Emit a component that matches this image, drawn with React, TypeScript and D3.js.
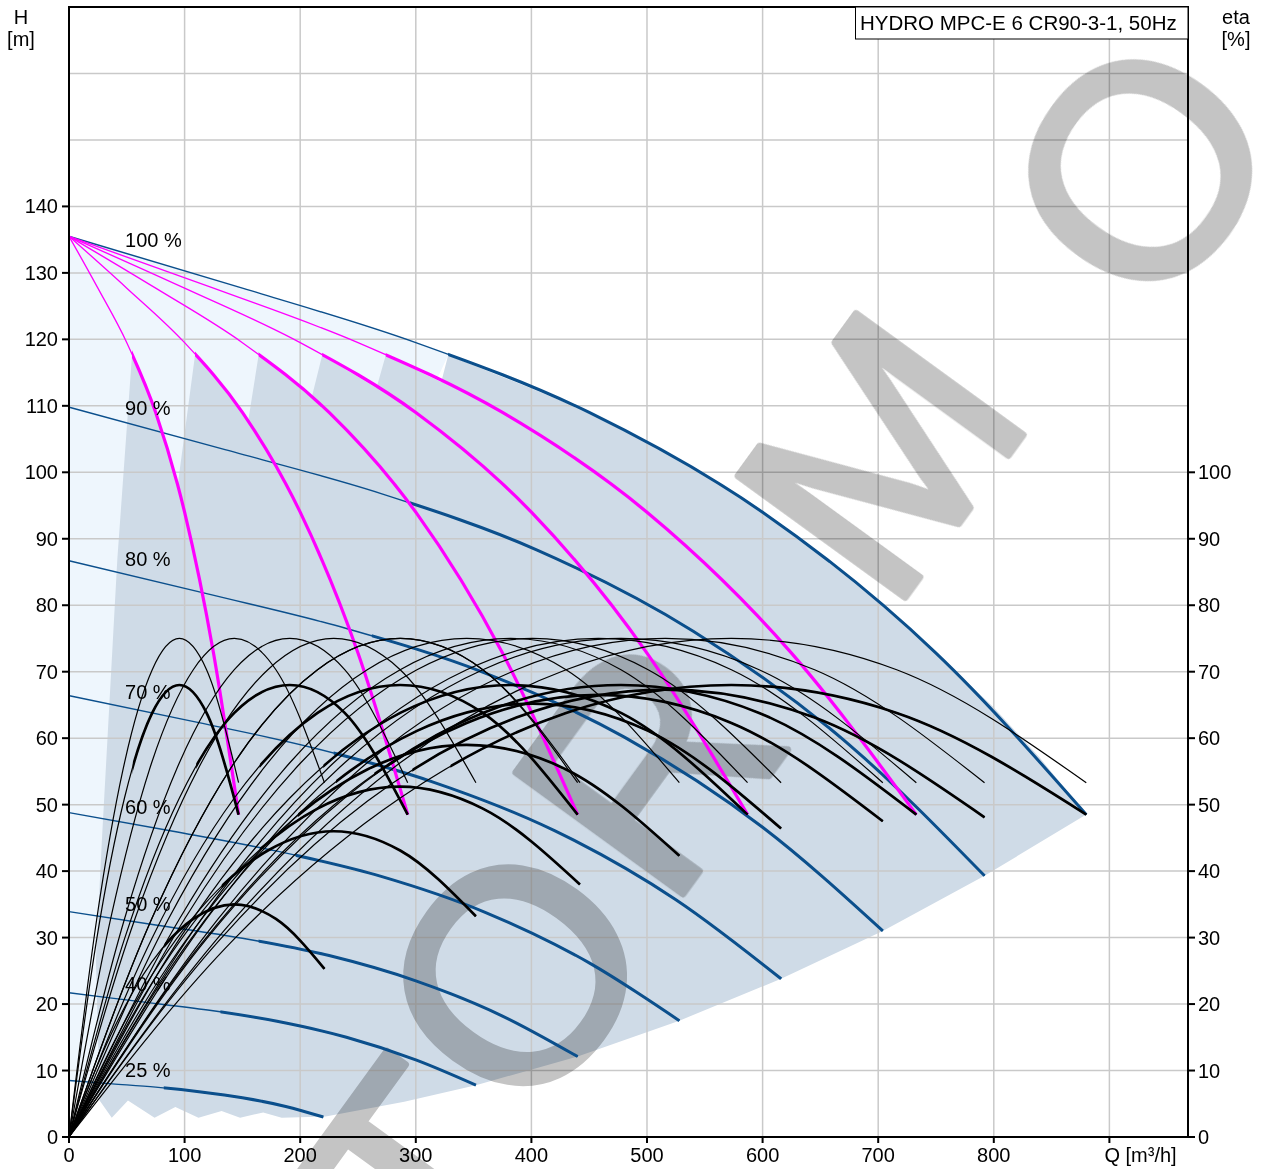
import React, { useEffect } from 'react';
import * as d3 from 'd3';

// ---- data ----

// 6 pumps running, QH curve per speed (flow m³/h, head m)
const speedLabels = ['100 %', '90 %', '80 %', '70 %', '60 %', '50 %', '40 %', '25 %'];
const qhFlow6 = [
  [0, 150, 300, 450, 600, 750, 880],
  [0, 135, 270, 405, 540, 675, 792],
  [0, 120, 240, 360, 480, 600, 704],
  [0, 105, 210, 315, 420, 525, 616],
  [0, 90, 180, 270, 360, 450, 528],
  [0, 75, 150, 225, 300, 375, 440],
  [0, 60, 120, 180, 240, 300, 352],
  [0, 37.5, 75, 112.5, 150, 187.5, 220],
];
const qhHead6 = [
  [135.5, 127.7, 119.5, 109, 94, 72.8, 48.5],
  [109.8, 103.4, 96.8, 88.3, 76.1, 59, 39.3],
  [86.7, 81.7, 76.5, 69.8, 60.2, 46.6, 31],
  [66.4, 62.6, 58.6, 53.4, 46.1, 35.7, 23.8],
  [48.8, 46, 43, 39.2, 33.8, 26.2, 17.5],
  [33.9, 31.9, 29.9, 27.3, 23.5, 18.2, 12.1],
  [21.7, 20.4, 19.1, 17.4, 15, 11.6, 7.8],
  [8.5, 8, 7.5, 6.8, 5.9, 4.6, 3],
];
const qhMinFlow6 = [328, 295, 262, 229, 196, 164, 131, 82];

// 1..5 pumps at full speed (magenta)
const qhFlowN = [
  [0, 25, 50, 75, 100, 125, 146.7],
  [0, 50, 100, 150, 200, 250, 293],
  [0, 75, 150, 225, 300, 375, 440],
  [0, 100, 200, 300, 400, 500, 587],
  [0, 125, 250, 375, 500, 625, 733],
];
const qhHeadN = [135.5, 127.7, 119.5, 109, 94, 72.8, 48.5];
const qhMinFlowN = [54.5, 109, 164, 219, 274];

// efficiency curves: 1..6 pumps at 100 %, then 6 pumps at 90..25 %
const etaFlow = [
  [0, 24, 48, 72, 95.5, 119, 146.7],
  [0, 48, 95.5, 143, 191, 238.5, 293],
  [0, 71.5, 143, 215, 286.5, 358, 440],
  [0, 95.5, 191, 286.5, 382, 477.5, 587],
  [0, 119, 238.5, 358, 477.5, 597, 733],
  [0, 143, 286.5, 430, 573, 716, 880],
  [0, 129, 258, 387, 516, 645, 792],
  [0, 114.5, 229, 344, 458, 573, 704],
  [0, 100, 200.5, 301, 401, 501, 616],
  [0, 86, 172, 258, 344, 430, 528],
  [0, 71.5, 143, 215, 286.5, 358, 442],
  [0, 57, 114.5, 172, 229, 286.5, 352],
  [0, 36, 71.5, 107.5, 143, 179, 221],
];
const etaPump = [0, 32.8, 56.3, 70.3, 75, 70.3, 53.3];
const etaTotal = [
  [0, 29.8, 51, 63.8, 68, 63.8, 48.5],
  [0, 29.8, 51, 63.8, 68, 63.8, 48.5],
  [0, 29.8, 51, 63.8, 68, 63.8, 48.5],
  [0, 29.8, 51, 63.8, 68, 63.8, 48.5],
  [0, 29.8, 51, 63.8, 68, 63.8, 48.5],
  [0, 29.8, 51, 63.8, 68, 63.8, 48.5],
  [0, 29.4, 50.5, 63.1, 67.3, 63.1, 48.1],
  [0, 29.1, 49.9, 62.3, 66.5, 62.3, 47.5],
  [0, 28.5, 48.9, 61.1, 65.2, 61.1, 46.4],
  [0, 25.8, 44.3, 55.3, 59, 55.3, 42.3],
  [0, 23.1, 39.5, 49.4, 52.7, 49.4, 38],
  [0, 20.1, 34.5, 43.1, 46, 43.1, 33.2],
  [0, 15.3, 26.3, 32.8, 35, 32.8, 25.3],
];
const etaMinFlow = [55, 110, 165, 220, 275, 330, 297, 264, 231, 198, 165, 132, 82.5];

// operating ranges (Q, H)
const operatingArea: [number, number][] = [
  [54.5, 117.6], [70, 111.3], [83, 104.8], [94, 98],
  [109, 117.6], [130, 113.5], [150, 109], [155, 107.7],
  [164, 117.6], [190, 114.5], [210, 111.3],
  [219, 117.6], [240, 115.4], [266, 112.7],
  [274, 117.6], [300, 115.4], [322, 113.6],
  [328, 117.6], [360, 115.4], [400, 112.6], [450, 109], [500, 104.7], [550, 99.6],
  [600, 94], [650, 87.5], [700, 80.4], [750, 72.8], [800, 64.6], [840, 57], [880, 48.5],
  [792, 39.3], [704, 31], [616, 23.8], [528, 17.5], [440, 12.1], [352, 7.8], [290, 5.3], [222, 3.1],
  [184, 2.9], [168, 3.7], [148, 2.9], [132, 3.9], [112, 2.9], [92, 4.5], [74, 2.9], [51, 5.5],
  [37, 2.9], [26.5, 5.5],
  [23.3, 26.7], [28.5, 44.8], [41.8, 86.9],
];
const lowFlowArea: [number, number][] = [
  [0, 135.5], [150, 127.7], [300, 119.5], [328, 117.6], [26.5, 5.5],
  [25, 5.9], [18.75, 6.8], [12.5, 7.5], [6.25, 8], [0, 8.5],
];

const qTicks = [0, 100, 200, 300, 400, 500, 600, 700, 800];
const hTicks = d3.range(0, 150, 10);
const etaTicks = d3.range(0, 110, 10);
const title = 'HYDRO MPC-E 6 CR90-3-1, 50Hz';
const watermark = 'TORMO';

// ---- drawing ----
const W = 1288;
const H = 1169;
const x = d3.scaleLinear().domain([0, 968]).range([69, 1188]);
const y = d3.scaleLinear().domain([0, 170]).range([1137, 7]);

// centre of each watermark letter, screen px
const wmCentres = [
  [420, 1180],
  [515, 975],
  [648, 765],
  [880, 455],
  [1140, 170],
];

const curve = d3
  .line<[number, number]>()
  .x(d => x(d[0]))
  .y(d => y(d[1]))
  .curve(d3.curveMonotoneX);
const poly = d3
  .line<[number, number]>()
  .x(d => x(d[0]))
  .y(d => y(d[1]))
  .curve(d3.curveLinearClosed);

const zip = (qs: number[], vs: number[]) => qs.map((q, i) => [q, vs[i]] as [number, number]);

const FONT = '"Liberation Sans", Arial, Helvetica, sans-serif';
const FS = 20;
const BLUE = '#0b4f8c';
const MAGENTA = '#ff00ff';

// thin line over the whole range, thick from the given flow onwards
function Curve({ d, from, color, thin, thick, id }: { d: string; from: number; color: string; thin: number; thick: number; id: string }) {
  return (
    <g>
      <clipPath id={id}>
        <rect x={x(from)} y={0} width={W - x(from)} height={H} />
      </clipPath>
      <path d={d} fill="none" stroke={color} strokeWidth={thin} />
      <path d={d} fill="none" stroke={color} strokeWidth={thick} clipPath={`url(#${id})`} />
    </g>
  );
}

export default function App() {
  useEffect(() => {
    document.body.style.margin = '0';
  }, []);

  const x0 = x(0);
  const x1 = x(968);
  const y0 = y(0);
  const y1 = y(170);

  return (
    <svg width={W} height={H} style={{ display: 'block', position: 'absolute', left: 0, top: 0 }} fontFamily={FONT}>
      <rect width={W} height={H} fill="#fff" />

      {/* shaded operating ranges */}
      <path d={poly(lowFlowArea) || ''} fill="#eef6fd" />
      <path d={poly(operatingArea) || ''} fill="#cfdbe7" />

      {/* grid */}
      <g stroke="#c9c9c9" strokeWidth={1.5}>
        {d3.range(100, 1000, 100).map(q => (
          <line key={'gx' + q} x1={x(q)} x2={x(q)} y1={y0} y2={y1} />
        ))}
        {d3.range(10, 170, 10).map(h => (
          <line key={'gy' + h} x1={x0} x2={x1} y1={y(h)} y2={y(h)} />
        ))}
      </g>

      {/* watermark */}
      <g opacity={0.235} fill="#000" stroke="#000" strokeWidth={7} strokeLinejoin="round">
        {watermark.split('').map((ch, i) => (
          <text
            key={'wm' + i}
            transform={`translate(${wmCentres[i][0]},${wmCentres[i][1]}) rotate(-54)`}
            textAnchor="middle"
            dominantBaseline="central"
            fontSize={300}
          >
            {ch}
          </text>
        ))}
      </g>

      {/* QH curves, 6 pumps at each speed */}
      {qhFlow6.map((qs, i) => (
        <Curve key={'b' + i} id={'cb' + i} d={curve(zip(qs, qhHead6[i])) || ''} from={qhMinFlow6[i]} color={BLUE} thin={1.4} thick={3} />
      ))}

      {/* QH curves, 1..5 pumps at full speed */}
      {qhFlowN.map((qs, i) => (
        <Curve key={'m' + i} id={'cm' + i} d={curve(zip(qs, qhHeadN)) || ''} from={qhMinFlowN[i]} color={MAGENTA} thin={1.3} thick={3.2} />
      ))}

      {/* efficiency curves */}
      {etaFlow.map((qs, i) => (
        <path key={'ep' + i} d={curve(zip(qs, etaPump)) || ''} fill="none" stroke="#000" strokeWidth={1.2} />
      ))}
      {etaFlow.map((qs, i) => (
        <Curve key={'et' + i} id={'ct' + i} d={curve(zip(qs, etaTotal[i])) || ''} from={etaMinFlow[i]} color="#000" thin={1.2} thick={2.7} />
      ))}

      {/* speed labels */}
      {speedLabels.map((s, i) => (
        <text key={s} x={x(48.5)} y={y(qhHead6[i][0] * 0.984 + 0.6)} fontSize={FS} fill="#000">
          {s}
        </text>
      ))}

      {/* frame */}
      <rect x={x0} y={y1} width={x1 - x0} height={y0 - y1} fill="none" stroke="#000" strokeWidth={2} />

      {/* title box */}
      <rect x={855.5} y={y1} width={x1 - 855.5} height={32} fill="#fff" stroke="#000" strokeWidth={1} />
      <text x={860} y={30} fontSize={20.5}>
        {title}
      </text>

      {/* left axis */}
      {hTicks.map(h => (
        <g key={'lh' + h}>
          <line x1={x0 - 7} x2={x0} y1={y(h)} y2={y(h)} stroke="#000" strokeWidth={2} />
          <text x={x0 - 11} y={y(h)} dy="0.35em" textAnchor="end" fontSize={FS}>
            {h}
          </text>
        </g>
      ))}
      {/* right axis */}
      {etaTicks.map(e => (
        <g key={'re' + e}>
          <line x1={x1} x2={x1 + 7} y1={y(e)} y2={y(e)} stroke="#000" strokeWidth={2} />
          <text x={x1 + 10} y={y(e)} dy="0.35em" textAnchor="start" fontSize={FS}>
            {e}
          </text>
        </g>
      ))}
      {/* bottom axis */}
      {qTicks.map(q => (
        <g key={'bq' + q}>
          <line x1={x(q)} x2={x(q)} y1={y0} y2={y0 + 6} stroke="#000" strokeWidth={2} />
          <text x={x(q)} y={1162} textAnchor="middle" fontSize={FS}>
            {q}
          </text>
        </g>
      ))}
      <line x1={x(900)} x2={x(900)} y1={y0} y2={y0 + 6} stroke="#000" strokeWidth={2} />
      <text x={x(900)} y={1162} textAnchor="start" dx={-5} fontSize={FS}>
        Q [m³/h]
      </text>

      {/* axis titles */}
      <text x={21} y={24} textAnchor="middle" fontSize={FS}>H</text>
      <text x={21} y={46} textAnchor="middle" fontSize={FS}>[m]</text>
      <text x={1236} y={24} textAnchor="middle" fontSize={FS}>eta</text>
      <text x={1236} y={46} textAnchor="middle" fontSize={FS}>[%]</text>
    </svg>
  );
}
